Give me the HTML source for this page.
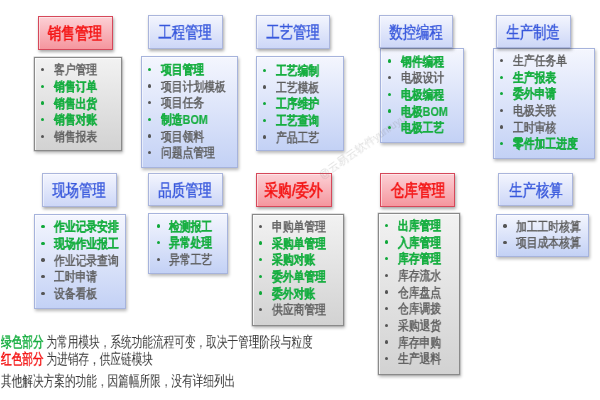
<!DOCTYPE html>
<html><head><meta charset="utf-8"><style>
html,body{margin:0;padding:0;width:600px;height:400px;overflow:hidden;background:#fff;}
body{position:relative;font-family:"Liberation Sans",sans-serif;}
.b{position:absolute;box-sizing:border-box;}
.hr{z-index:2;border:1px solid #d6485a;background:linear-gradient(#fcd0d5,#f5969e);box-shadow:1px 2px 3px rgba(0,0,0,.35), inset 1px 1px 0 rgba(255,255,255,.45);}
.hb{z-index:2;border:1px solid #aab5dc;background:linear-gradient(#f3f5fe,#cdd7f7);box-shadow:1px 2px 3px rgba(0,0,0,.35), inset 1px 1px 0 rgba(255,255,255,.45);}
.lg{border:1px solid #8a8a8a;background:linear-gradient(#f2f2f2,#d2d2d2);box-shadow:0 0 0 .5px rgba(120,120,120,.4), 1px 2px 3px rgba(0,0,0,.28), inset 1px 1px 0 rgba(255,255,255,.7);}
.lb{border:1px solid #a6b3dc;background:linear-gradient(#f4f6fe,#c3d1f5);box-shadow:1px 2px 3px rgba(0,0,0,.28), inset 1px 1px 0 rgba(255,255,255,.5);}
.t{position:absolute;z-index:3;will-change:transform;white-space:nowrap;transform-origin:0 50%;line-height:1;}
.ht{font-size:17px;transform:scaleX(.785);-webkit-text-stroke:.4px currentColor;}
.it{font-size:13px;transform:scaleX(.83);font-weight:bold;}
.n{color:#5c5c5c;font-weight:normal;-webkit-text-stroke:.45px #5c5c5c;}
.g{color:#16ae40;-webkit-text-stroke:.2px #16ae40;}
.r{color:#f41414;}
.ht.r{-webkit-text-stroke:.6px #f41414;transform:scaleX(.8);margin-left:-.5px;}
.bl{color:#3858dc;}
.bt{font-size:14.5px;transform:scaleX(.71);}
.k{color:#3a3a3a;}
.lab{-webkit-text-stroke:.5px currentColor;}
.dot{position:absolute;width:3.4px;height:3.4px;border-radius:50%;}
.dn{background:#555;}
.dg{background:#10a83a;}
</style></head><body>

<div class="b hr" style="left:37.5px;top:15.6px;width:75.3px;height:34.0px"></div>
<div class="t ht r" style="left:37.5px;width:75.3px;text-align:center;top:25.0px;transform-origin:50% 50%">销售管理</div>
<div class="b lg" style="left:34px;top:56.5px;width:87.5px;height:94.6px"></div>
<div class="dot dn" style="left:41.1px;top:67.9px"></div>
<div class="t it n" style="left:54.0px;top:63.2px">客户管理</div>
<div class="dot dg" style="left:41.1px;top:84.5px"></div>
<div class="t it g" style="left:54.0px;top:79.8px">销售订单</div>
<div class="dot dg" style="left:41.1px;top:101.2px"></div>
<div class="t it g" style="left:54.0px;top:96.5px">销售出货</div>
<div class="dot dg" style="left:41.1px;top:117.8px"></div>
<div class="t it g" style="left:54.0px;top:113.1px">销售对账</div>
<div class="dot dn" style="left:41.1px;top:134.5px"></div>
<div class="t it n" style="left:54.0px;top:129.8px">销售报表</div>
<div class="b hb" style="left:148.3px;top:15px;width:74.5px;height:33.7px"></div>
<div class="t ht bl" style="left:148.3px;width:74.5px;text-align:center;top:24.2px;transform-origin:50% 50%">工程管理</div>
<div class="b lb" style="left:140.6px;top:55.6px;width:97.6px;height:112.0px"></div>
<div class="dot dg" style="left:147.7px;top:67.7px"></div>
<div class="t it g" style="left:160.6px;top:63.0px">项目管理</div>
<div class="dot dn" style="left:147.7px;top:84.4px"></div>
<div class="t it n" style="left:160.6px;top:79.7px">项目计划模板</div>
<div class="dot dn" style="left:147.7px;top:101.0px"></div>
<div class="t it n" style="left:160.6px;top:96.3px">项目任务</div>
<div class="dot dg" style="left:147.7px;top:117.6px"></div>
<div class="t it g" style="left:160.6px;top:112.9px">制造BOM</div>
<div class="dot dn" style="left:147.7px;top:134.3px"></div>
<div class="t it n" style="left:160.6px;top:129.6px">项目领料</div>
<div class="dot dn" style="left:147.7px;top:151.0px"></div>
<div class="t it n" style="left:160.6px;top:146.2px">问题点管理</div>
<div class="b hb" style="left:255.8px;top:15px;width:74.2px;height:33.7px"></div>
<div class="t ht bl" style="left:255.8px;width:74.2px;text-align:center;top:24.2px;transform-origin:50% 50%">工艺管理</div>
<div class="b lb" style="left:256px;top:56px;width:88.2px;height:94.9px"></div>
<div class="dot dg" style="left:263.1px;top:68.6px"></div>
<div class="t it g" style="left:276.0px;top:63.9px">工艺编制</div>
<div class="dot dn" style="left:263.1px;top:85.2px"></div>
<div class="t it n" style="left:276.0px;top:80.5px">工艺模板</div>
<div class="dot dg" style="left:263.1px;top:101.9px"></div>
<div class="t it g" style="left:276.0px;top:97.2px">工序维护</div>
<div class="dot dg" style="left:263.1px;top:118.5px"></div>
<div class="t it g" style="left:276.0px;top:113.8px">工艺查询</div>
<div class="dot dn" style="left:263.1px;top:135.2px"></div>
<div class="t it n" style="left:276.0px;top:130.5px">产品工艺</div>
<div class="b hb" style="left:378.5px;top:15px;width:74.2px;height:33.3px"></div>
<div class="t ht bl" style="left:378.5px;width:74.2px;text-align:center;top:24.0px;transform-origin:50% 50%">数控编程</div>
<div class="b lb" style="left:380px;top:47.8px;width:84.2px;height:95.0px"></div>
<div class="dot dg" style="left:388.1px;top:59.3px"></div>
<div class="t it g" style="left:401.0px;top:54.6px">钢件编程</div>
<div class="dot dn" style="left:388.1px;top:76.0px"></div>
<div class="t it n" style="left:401.0px;top:71.2px">电极设计</div>
<div class="dot dg" style="left:388.1px;top:92.6px"></div>
<div class="t it g" style="left:401.0px;top:87.9px">电极编程</div>
<div class="dot dg" style="left:388.1px;top:109.2px"></div>
<div class="t it g" style="left:401.0px;top:104.5px">电极BOM</div>
<div class="dot dg" style="left:388.1px;top:125.9px"></div>
<div class="t it g" style="left:401.0px;top:121.2px">电极工艺</div>
<div class="b hb" style="left:496.3px;top:15px;width:74.5px;height:33.0px"></div>
<div class="t ht bl" style="left:496.3px;width:74.5px;text-align:center;top:23.9px;transform-origin:50% 50%">生产制造</div>
<div class="b lb" style="left:492.5px;top:47.5px;width:102.2px;height:111.9px"></div>
<div class="dot dn" style="left:499.6px;top:58.8px"></div>
<div class="t it n" style="left:512.5px;top:54.1px">生产任务单</div>
<div class="dot dg" style="left:499.6px;top:75.5px"></div>
<div class="t it g" style="left:512.5px;top:70.8px">生产报表</div>
<div class="dot dg" style="left:499.6px;top:92.1px"></div>
<div class="t it g" style="left:512.5px;top:87.4px">委外申请</div>
<div class="dot dn" style="left:499.6px;top:108.7px"></div>
<div class="t it n" style="left:512.5px;top:104.0px">电极关联</div>
<div class="dot dn" style="left:499.6px;top:125.4px"></div>
<div class="t it n" style="left:512.5px;top:120.7px">工时审核</div>
<div class="dot dg" style="left:499.6px;top:142.1px"></div>
<div class="t it g" style="left:512.5px;top:137.3px">零件加工进度</div>
<div class="b hb" style="left:42.2px;top:173px;width:74.7px;height:34.0px"></div>
<div class="t ht bl" style="left:42.2px;width:74.7px;text-align:center;top:182.4px;transform-origin:50% 50%">现场管理</div>
<div class="b lb" style="left:34.2px;top:213.6px;width:92.0px;height:95.6px"></div>
<div class="dot dg" style="left:41.3px;top:224.9px"></div>
<div class="t it g" style="left:54.2px;top:220.2px">作业记录安排</div>
<div class="dot dg" style="left:41.3px;top:241.6px"></div>
<div class="t it g" style="left:54.2px;top:236.8px">现场作业报工</div>
<div class="dot dn" style="left:41.3px;top:258.2px"></div>
<div class="t it n" style="left:54.2px;top:253.5px">作业记录查询</div>
<div class="dot dn" style="left:41.3px;top:274.9px"></div>
<div class="t it n" style="left:54.2px;top:270.2px">工时申请</div>
<div class="dot dn" style="left:41.3px;top:291.5px"></div>
<div class="t it n" style="left:54.2px;top:286.8px">设备看板</div>
<div class="b hb" style="left:148.2px;top:173px;width:74.8px;height:33.3px"></div>
<div class="t ht bl" style="left:148.2px;width:74.8px;text-align:center;top:182.1px;transform-origin:50% 50%">品质管理</div>
<div class="b lb" style="left:148.4px;top:213.4px;width:79.4px;height:60.5px"></div>
<div class="dot dg" style="left:156.5px;top:224.3px"></div>
<div class="t it g" style="left:169.4px;top:219.6px">检测报工</div>
<div class="dot dg" style="left:156.5px;top:241.0px"></div>
<div class="t it g" style="left:169.4px;top:236.2px">异常处理</div>
<div class="dot dn" style="left:156.5px;top:257.6px"></div>
<div class="t it n" style="left:169.4px;top:252.9px">异常工艺</div>
<div class="b hr" style="left:256.3px;top:172.8px;width:75.6px;height:34.2px"></div>
<div class="t ht r" style="left:256.3px;width:75.6px;text-align:center;top:182.3px;transform-origin:50% 50%">采购/委外</div>
<div class="b lg" style="left:252px;top:214.4px;width:92.2px;height:111.5px"></div>
<div class="dot dn" style="left:259.1px;top:224.6px"></div>
<div class="t it n" style="left:272.0px;top:219.9px">申购单管理</div>
<div class="dot dg" style="left:259.1px;top:241.3px"></div>
<div class="t it g" style="left:272.0px;top:236.6px">采购单管理</div>
<div class="dot dg" style="left:259.1px;top:257.9px"></div>
<div class="t it g" style="left:272.0px;top:253.2px">采购对账</div>
<div class="dot dg" style="left:259.1px;top:274.6px"></div>
<div class="t it g" style="left:272.0px;top:269.9px">委外单管理</div>
<div class="dot dg" style="left:259.1px;top:291.2px"></div>
<div class="t it g" style="left:272.0px;top:286.5px">委外对账</div>
<div class="dot dn" style="left:259.1px;top:307.9px"></div>
<div class="t it n" style="left:272.0px;top:303.2px">供应商管理</div>
<div class="b hr" style="left:380px;top:173px;width:75.2px;height:33.7px"></div>
<div class="t ht r" style="left:380px;width:75.2px;text-align:center;top:182.2px;transform-origin:50% 50%">仓库管理</div>
<div class="b lg" style="left:378px;top:212.6px;width:81.7px;height:162.0px"></div>
<div class="dot dg" style="left:385.1px;top:223.7px"></div>
<div class="t it g" style="left:398.0px;top:219.0px">出库管理</div>
<div class="dot dg" style="left:385.1px;top:240.4px"></div>
<div class="t it g" style="left:398.0px;top:235.7px">入库管理</div>
<div class="dot dg" style="left:385.1px;top:257.0px"></div>
<div class="t it g" style="left:398.0px;top:252.3px">库存管理</div>
<div class="dot dn" style="left:385.1px;top:273.7px"></div>
<div class="t it n" style="left:398.0px;top:269.0px">库存流水</div>
<div class="dot dn" style="left:385.1px;top:290.3px"></div>
<div class="t it n" style="left:398.0px;top:285.6px">仓库盘点</div>
<div class="dot dn" style="left:385.1px;top:306.9px"></div>
<div class="t it n" style="left:398.0px;top:302.2px">仓库调拨</div>
<div class="dot dn" style="left:385.1px;top:323.6px"></div>
<div class="t it n" style="left:398.0px;top:318.9px">采购退货</div>
<div class="dot dn" style="left:385.1px;top:340.2px"></div>
<div class="t it n" style="left:398.0px;top:335.6px">库存申购</div>
<div class="dot dn" style="left:385.1px;top:356.9px"></div>
<div class="t it n" style="left:398.0px;top:352.2px">生产退料</div>
<div class="b hb" style="left:497.8px;top:173.3px;width:75.4px;height:32.5px"></div>
<div class="t ht bl" style="left:497.8px;width:75.4px;text-align:center;top:182.0px;transform-origin:50% 50%">生产核算</div>
<div class="b lb" style="left:496.3px;top:213.75px;width:92.7px;height:43.4px"></div>
<div class="dot dn" style="left:503.4px;top:224.3px"></div>
<div class="t it n" style="left:516.3px;top:219.6px">加工工时核算</div>
<div class="dot dn" style="left:503.4px;top:241.0px"></div>
<div class="t it n" style="left:516.3px;top:236.2px">项目成本核算</div>
<div class="t bt" style="left:1px;top:334.5px"><span class="g lab">绿色部分</span><span class="k"> 为常用模块，系统功能流程可变，取决于管理阶段与粒度</span></div>
<div class="t bt" style="left:1px;top:351.5px"><span class="r lab">红色部分</span><span class="k"> 为进销存，供应链模块</span></div>
<div class="t bt k" style="left:1px;top:373.5px">其他解决方案的功能，因篇幅所限，没有详细列出</div>

<div class="t" style="left:323px;top:170px;font-size:10.5px;color:rgba(120,120,120,.25);transform:rotate(-35deg);transform-origin:0 100%;">@云易云软件yunruyun</div>
</body></html>
